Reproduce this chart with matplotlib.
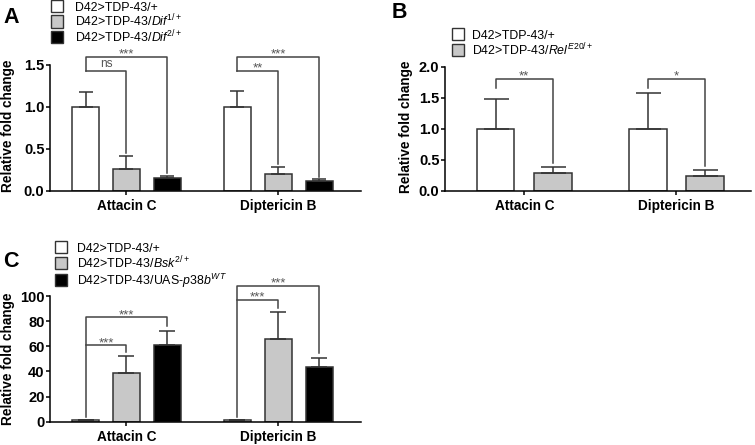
import matplotlib
matplotlib.use("Agg")
import matplotlib.pyplot as plt
from matplotlib.patches import Rectangle

plt.rcParams["font.family"] = "Liberation Sans"
plt.rcParams["mathtext.fontset"] = "custom"
plt.rcParams["mathtext.rm"] = "Liberation Sans"
plt.rcParams["mathtext.it"] = "Liberation Sans:italic"
plt.rcParams["mathtext.bf"] = "Liberation Sans:bold"

W, H = 755, 445
EDGE = "#333333"
LINE = "#444444"
GRAY = "#c8c8c8"

groups = ["Attacin C", "Diptericin B"]

# panel A: Dif
a_labels = ["D42>TDP-43/+",
            r"D42>TDP-43/$\mathit{Dif}^{\mathit{1/+}}$",
            r"D42>TDP-43/$\mathit{Dif}^{\mathit{2/+}}$"]
a_white = [1.0, 1.0]
a_white_err = [0.175, 0.19]
a_gray = [0.26, 0.20]
a_gray_err = [0.155, 0.09]
a_black = [0.155, 0.115]
a_black_err = [0.025, 0.025]
# (group, bar i, bar j, bracket y, text, left leg end, right leg end)
a_sig = [(0, 0, 1, 1.43, "ns", 1.43, 0.45),
         (0, 0, 2, 1.595, "***", 1.43, 0.21),
         (1, 0, 1, 1.43, "**", 1.43, 0.32),
         (1, 0, 2, 1.595, "***", 1.43, 0.17)]

# panel B: Rel
b_labels = ["D42>TDP-43/+",
            r"D42>TDP-43/$\mathit{Rel}^{\mathit{E20/+}}$"]
b_white = [1.0, 1.0]
b_white_err = [0.48, 0.58]
b_gray = [0.295, 0.24]
b_gray_err = [0.085, 0.10]
b_sig = [(0, 0, 1, 1.81, "**", 1.65, 0.445),
         (1, 0, 1, 1.80, "*", 1.65, 0.41)]

# panel C: Bsk / p38b
c_labels = ["D42>TDP-43/+",
            r"D42>TDP-43/$\mathit{Bsk}^{\mathit{2/+}}$",
            r"D42>TDP-43/UAS-$\mathit{p38b}^{\mathit{WT}}$"]
c_white = [1.0, 1.0]
c_white_err = [0.0, 0.0]
c_gray = [38.7, 65.4]
c_gray_err = [13.3, 21.8]
c_black = [61.1, 43.5]
c_black_err = [11.2, 6.9]
c_sig = [(0, 0, 1, 60.8, "***", 60.8, 55.5),
         (0, 0, 2, 83.0, "***", 4.0, 76.0),
         (1, 0, 1, 96.8, "***", 96.8, 90.5),
         (1, 0, 2, 108.3, "***", 4.0, 54.4)]


def px_axes(fig, left, right, top, bottom):
    return fig.add_axes([left / W, 1 - bottom / H, (right - left) / W, (bottom - top) / H])


def draw_panel(ax, series, colors, offsets, centers, width, capsize, sig, ylim, yticks, fmt):
    for (m, e), c, off in zip(series, colors, offsets):
        xs = [g + off for g in centers]
        ax.bar(xs, m, width, color=c, edgecolor=EDGE, linewidth=1.1, zorder=2)
        ax.errorbar(xs, m, yerr=[[0] * len(e), e], fmt="none", ecolor=EDGE,
                    elinewidth=1.1, capsize=capsize, capthick=1.1, zorder=3)
    for g, i, j, y, txt, yl, yr in sig:
        x1 = centers[g] + offsets[i]
        x2 = centers[g] + offsets[j]
        ax.plot([x1, x1, x2, x2], [yl, y, y, yr], color=LINE, lw=1.1, clip_on=False, zorder=4)
        if txt == "ns":
            size, dy = 8.5, 2.5
        else:
            size, dy = 9.5, -0.5
        ax.annotate(txt, ((x1 + x2) / 2, y), xytext=(0, dy), textcoords="offset points",
                    ha="center", va="baseline", fontsize=size, color="#555555",
                    annotation_clip=False)
    ax.set_ylim(*ylim)
    ax.set_yticks(yticks)
    ax.set_yticklabels([fmt.format(t) for t in yticks], fontweight="bold", fontsize=10.5)
    ax.set_xticks(centers)
    ax.set_xticklabels(groups, fontweight="bold", fontsize=9.8)
    ax.tick_params(axis="y", length=3, width=1.1, pad=1)
    ax.tick_params(axis="x", length=3, width=1.1, pad=3)
    for s in ("top", "right"):
        ax.spines[s].set_visible(False)
    for s in ("left", "bottom"):
        ax.spines[s].set_linewidth(1.1)
    ax.set_ylabel("Relative fold change", fontweight="bold", fontsize=9.8)


def legend(fig, labels, colors, x, tops, tx):
    for lab, c, t in zip(labels, colors, tops):
        fig.patches.append(Rectangle((x / W, 1 - (t + 12) / H), 12 / W, 12 / H,
                                     transform=fig.transFigure, facecolor=c,
                                     edgecolor=EDGE, linewidth=1.0))
        fig.text(tx / W, 1 - (t + 11) / H, lab, fontsize=8.9, va="baseline", ha="left")


fig = plt.figure(figsize=(W / 100, H / 100), dpi=100)

# A
axA = px_axes(fig, 50, 361, 65, 191)
draw_panel(axA, [(a_white, a_white_err), (a_gray, a_gray_err), (a_black, a_black_err)],
           ["white", GRAY, "black"], [-1, 0, 1], [0, 3.7], 0.66, 5,
           a_sig, (0, 1.5), [0, 0.5, 1.0, 1.5], "{:.1f}")
axA.set_xlim(-1.866, 5.72)
axA.yaxis.set_label_coords(-0.113, 0.515)

# B
axB = px_axes(fig, 445, 751, 66.7, 191)
draw_panel(axB, [(b_white, b_white_err), (b_gray, b_gray_err)],
           ["white", GRAY], [-0.5, 0.5], [0, 2.645], 0.656, 9,
           b_sig, (0, 2.0), [0, 0.5, 1.0, 1.5, 2.0], "{:.1f}")
axB.set_xlim(-1.379, 3.941)
axB.yaxis.set_label_coords(-0.105, 0.515)

# C
axC = px_axes(fig, 50, 361, 296, 421.7)
draw_panel(axC, [(c_white, c_white_err), (c_gray, c_gray_err), (c_black, c_black_err)],
           ["white", GRAY, "black"], [-1, 0, 1], [0, 3.7], 0.66, 5.5,
           c_sig, (0, 100), [0, 20, 40, 60, 80, 100], "{:.0f}")
axC.set_xlim(-1.866, 5.72)
axC.yaxis.set_label_coords(-0.113, 0.5)

legend(fig, a_labels, ["white", GRAY, "black"], 51, [0, 15.5, 31], 75)
legend(fig, b_labels, ["white", GRAY], 452, [28, 44], 472)
legend(fig, c_labels, ["white", GRAY, "black"], 55, [241, 257, 274], 77)

fig.text(3 / W, 1 - 23 / H, "A", fontsize=15.5, fontweight="bold", va="baseline")
fig.text(392 / W, 1 - 18 / H, "B", fontsize=15.5, fontweight="bold", va="baseline")
fig.text(3 / W, 1 - 267 / H, "C", fontsize=15.5, fontweight="bold", va="baseline")

fig.savefig("out.png", dpi=100)
